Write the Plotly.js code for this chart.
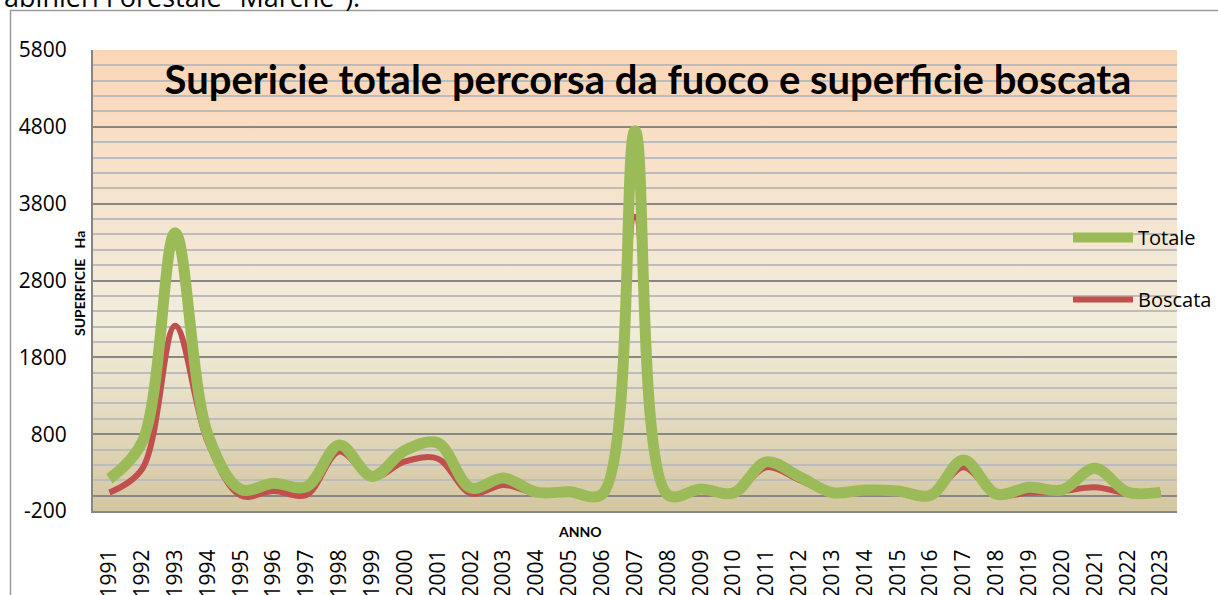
<!DOCTYPE html>
<html>
<head>
<meta charset="utf-8">
<script src="https://cdn.plot.ly/plotly-3.0.1.min.js"></script>
<style>html,body{margin:0;padding:0;background:#fff;}#chart{width:1218px;height:595px;}</style>
</head>
<body>
<div id="chart"></div>
<script>
// ---- data ----
const years = ['1991','1992','1993','1994','1995','1996','1997','1998','1999','2000','2001','2002','2003','2004','2005','2006','2007','2008','2009','2010','2011','2012','2013','2014','2015','2016','2017','2018','2019','2020','2021','2022','2023'];
const totale = [220, 700, 3420, 790, 80, 160, 115, 660, 250, 590, 685, 100, 230, 45, 50, 20, 4750, 10, 85, 35, 440, 250, 40, 74, 60, 5, 465, 20, 110, 74, 355, 45, 45];
const boscata = [40, 350, 2210, 690, 0, 60, 10, 575, 235, 445, 480, 30, 140, 30, 40, 10, 3630, 0, 70, 25, 370, 205, 30, 65, 50, 0, 370, 10, 40, 60, 110, 30, 30];
const seriesNames = ['Totale', 'Boscata'];
const yTickVals = [-200, 800, 1800, 2800, 3800, 4800, 5800];
const yTickText = ['-200', '800', '1800', '2800', '3800', '4800', '5800'];
const chartTitle = 'Supericie totale percorsa da fuoco e superficie boscata';
const yTitle = 'SUPERFICIE\u00a0\u00a0\u00a0Ha';
const xTitle = 'ANNO';
const pageText = 'Carabinieri Forestale "Marche").';

// ---- layout helpers (pixel -> paper) ----
const L = 93, R = 1177, T = 50, B = 511;
const px = p => (p - L) / (R - L);
const py = p => (B - p) / (B - T);

const grad = "<svg xmlns='http://www.w3.org/2000/svg' width='100' height='100' preserveAspectRatio='none'>" +
  "<defs><linearGradient id='g' x1='0' y1='0' x2='0' y2='1'>" +
  "<stop offset='0' stop-color='#FCD5B4'/><stop offset='0.22' stop-color='#F8E0C8'/>" +
  "<stop offset='0.6' stop-color='#F2EDDC'/><stop offset='1' stop-color='#D4C6A1'/>" +
  "</linearGradient></defs><rect width='100' height='100' fill='url(#g)'/></svg>";
const gradURI = 'data:image/svg+xml;charset=utf-8,' + encodeURIComponent(grad);

const tickFont = {family: 'Open Sans', size: 21, color: '#000'};

const traces = [
  {x: years, y: boscata, name: seriesNames[1], type: 'scatter', mode: 'lines',
   line: {color: '#C0504D', width: 6, shape: 'spline', smoothing: 1}, legendgroup: 'b', legendrank: 2},
  {x: years, y: totale, name: seriesNames[0], type: 'scatter', mode: 'lines',
   line: {color: '#9BBB59', width: 11, shape: 'spline', smoothing: 1}, legendgroup: 't', legendrank: 1}
];

const layout = {
  width: 1218, height: 595, autosize: false,
  margin: {l: L, r: 1218 - R, t: T, b: 595 - B, pad: 0, autoexpand: false},
  paper_bgcolor: '#ffffff', plot_bgcolor: 'rgba(0,0,0,0)',
  title: {text: chartTitle, font: {family: 'Lato', size: 40, color: '#000', weight: 700},
          xref: 'paper', yref: 'paper', x: px(648), y: py(80), xanchor: 'center', yanchor: 'middle'},
  xaxis: {type: 'category', range: [-0.5, years.length - 0.5], showgrid: false,
          showline: true, linecolor: '#868686', linewidth: 2,
          ticks: 'outside', ticklen: 28, tickcolor: 'rgba(0,0,0,0)', tickangle: -90,
          tickfont: tickFont, fixedrange: true, zeroline: false, automargin: false},
  yaxis: {range: [-200, 5800], tickmode: 'array', tickvals: yTickVals, ticktext: yTickText,
          showgrid: true, gridcolor: '#878787', gridwidth: 2,
          minor: {tickmode: 'linear', tick0: -200, dtick: 200, showgrid: true, gridcolor: '#BCBCBC', gridwidth: 2},
          zeroline: true, zerolinecolor: '#878787', zerolinewidth: 2,
          showline: true, linecolor: '#868686', linewidth: 2,
          ticks: 'outside', ticklen: 20, tickcolor: 'rgba(0,0,0,0)',
          tickfont: tickFont, fixedrange: true, automargin: false},
  showlegend: true,
  legend: {x: px(1068), y: py(218), xanchor: 'left', yanchor: 'top', bgcolor: 'rgba(0,0,0,0)',
           font: {family: 'Open Sans', size: 20, color: '#000'}, traceorder: 'grouped',
           tracegroupgap: 33, itemwidth: 60},
  images: [{source: gradURI, xref: 'paper', yref: 'paper', x: 0, y: 1, sizex: 1, sizey: 1,
            xanchor: 'left', yanchor: 'top', sizing: 'stretch', layer: 'below'}],
  shapes: [
    {type: 'rect', xref: 'paper', yref: 'paper', x0: px(10.5), x1: px(1240), y0: py(10.5), y1: py(640),
     line: {color: '#9A9A9A', width: 1.5}, fillcolor: 'rgba(0,0,0,0)', layer: 'below'}
  ],
  annotations: [
    {text: yTitle, xref: 'paper', yref: 'paper', x: px(79), y: py(284), textangle: -90,
     showarrow: false, xanchor: 'center', yanchor: 'middle',
     font: {family: 'Lato', size: 14, color: '#000', weight: 700}},
    {text: xTitle, xref: 'paper', yref: 'paper', x: px(580), y: py(531),
     showarrow: false, xanchor: 'center', yanchor: 'middle',
     font: {family: 'Lato', size: 14, color: '#000', weight: 700}},
    {text: pageText, xref: 'paper', yref: 'paper', x: px(362), y: py(17),
     showarrow: false, xanchor: 'right', yanchor: 'bottom',
     font: {family: 'Open Sans', size: 27, color: '#000'}}
  ]
};

Plotly.newPlot('chart', traces, layout, {staticPlot: true, displayModeBar: false});
</script>
</body>
</html>
